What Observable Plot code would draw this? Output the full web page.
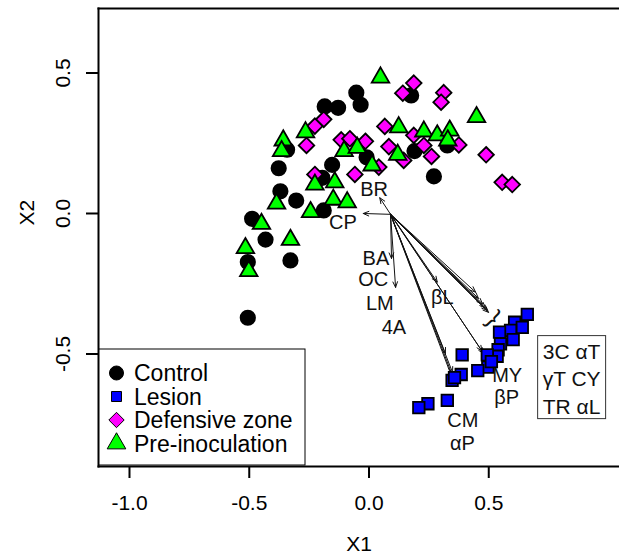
<!DOCTYPE html>
<html>
<head>
<meta charset="utf-8">
<script src="https://cdn.jsdelivr.net/npm/d3@7"></script>
<script src="https://cdn.jsdelivr.net/npm/@observablehq/plot@0.6"></script>
<style>
  body { margin: 0; background: #fff; }
  #chart svg { display: block; }
</style>
</head>
<body>
<div id="chart"></div>
<script>
// Sample scores on the first two ordination axes, one pair of arrays per group
const controlX = [-0.053, -0.035, -0.185, -0.129, -0.342, -0.377, -0.154, -0.010, -0.195, -0.370, -0.304,
                  -0.189, -0.488, -0.432, -0.506, -0.328, -0.506, 0.176, 0.327, 0.190, 0.271];
const controlY = [0.430, 0.387, 0.381, 0.376, 0.227, 0.161, 0.173, 0.200, 0.127, 0.079, 0.046,
                  0.011, -0.019, -0.093, -0.173, -0.167, -0.371, 0.420, 0.242, 0.222, 0.132];

const lesionX = [0.661, 0.608, 0.640, 0.591, 0.545, 0.602, 0.549, 0.539, 0.535, 0.494, 0.496,
                 0.454, 0.389, 0.385, 0.347, 0.327, 0.246, 0.208, 0.511, 0.357];
const lesionY = [-0.359, -0.387, -0.405, -0.416, -0.422, -0.449, -0.464, -0.485, -0.508, -0.503, -0.547,
                 -0.559, -0.503, -0.573, -0.594, -0.665, -0.677, -0.691, -0.527, -0.584];

const defenseX = [0.187, 0.141, 0.312, 0.301, -0.189, -0.226, -0.261, -0.116, -0.080, -0.015, -0.226, -0.059,
                  0.066, 0.187, 0.375, 0.229, 0.261, 0.083, 0.145, 0.489, 0.556, 0.598, 0.041];
const defenseY = [0.464, 0.428, 0.430, 0.396, 0.335, 0.311, 0.242, 0.262, 0.266, 0.257, 0.139, 0.139,
                  0.310, 0.278, 0.244, 0.242, 0.203, 0.238, 0.189, 0.209, 0.111, 0.103, 0.165];

const preinocX = [0.048, 0.449, -0.265, -0.358, -0.365, -0.104, -0.049, 0.013, -0.226, -0.143, 0.124, 0.229,
                  0.285, 0.337, 0.329, 0.120, -0.386, -0.149, -0.091, -0.244, -0.449, -0.328, -0.516, -0.502];
const preinocY = [0.484, 0.343, 0.289, 0.260, 0.222, 0.222, 0.234, 0.171, 0.103, 0.111, 0.307, 0.292,
                  0.278, 0.295, 0.260, 0.209, 0.035, 0.049, 0.040, 0.005, -0.037, -0.094, -0.123, -0.205];

const groupNames = ["Control", "Lesion", "Defensive zone", "Pre-inoculation"];

// Variable loadings drawn as arrows from a common origin
const arrowOrigin = [0.09, -0.003];
const arrowNames = ["BR", "CP", "BA", "OC", "LM", "4A", "CM", "αP", "βL", "MY", "βP",
                    "3C", "αT", "γT", "CY", "TR", "αL"];
const arrowX = [0.045, -0.024, 0.094, 0.111, 0.319, 0.349, 0.361, 0.353, 0.285, 0.479, 0.472,
                0.494, 0.486, 0.457, 0.445, 0.474, 0.499];
const arrowY = [0.056, 0.000, -0.160, -0.263, -0.498, -0.566, -0.605, -0.598, -0.244, -0.499, -0.490,
                -0.345, -0.336, -0.302, -0.280, -0.322, -0.352];

// Variable labels placed beside the arrow tips
const labelText = ["BR", "CP", "BA", "OC", "LM", "4A", "βL", "MY", "βP", "CM", "αP"];
const labelX = [0.021, -0.109, 0.029, 0.018, 0.045, 0.104, 0.306, 0.577, 0.575, 0.392, 0.390];
const labelY = [0.084, -0.034, -0.161, -0.237, -0.321, -0.405, -0.301, -0.577, -0.654, -0.737, -0.818];

// Brace and boxed note for the arrows that end together on the right
const braceX = [0.521], braceY = [-0.372];
const noteLines = ["3C αT", "γT CY", "TR αL"];
const noteX = [0.846], noteY = [-0.583];

const xTicks = [-1.0, -0.5, 0.0, 0.5];
const yTicks = [-0.5, 0.0, 0.5];

const FONT = "'Liberation Sans', Arial, Helvetica, sans-serif";

const groups = [
  {name: groupNames[0], xs: controlX, ys: controlY, symbol: "circle",   fill: "#000000", r: 7.2, legendSize: 154},
  {name: groupNames[1], xs: lesionX,  ys: lesionY,  symbol: "square",   fill: "#0000ff", r: 6.5, legendSize: 100},
  {name: groupNames[2], xs: defenseX, ys: defenseY, symbol: "diamond2", fill: "#ff00ff", r: 7.0, legendSize: 150},
  {name: groupNames[3], xs: preinocX, ys: preinocY, symbol: "triangle", fill: "#00ff00", r: 6.5, legendSize: 150}
];

const dotMarks = groups.map(g => Plot.dot(d3.range(g.xs.length), {
  x: i => g.xs[i], y: i => g.ys[i],
  symbol: g.symbol, r: g.r, fill: g.fill, stroke: "#000", strokeWidth: 1.8
}));

const plot = Plot.plot({
  width: 619,
  height: 554,
  marginLeft: 98,
  marginRight: 0,
  marginTop: 8,
  marginBottom: 88,
  style: {fontFamily: FONT, fontSize: "21px", color: "#000", background: "#fff"},
  x: {domain: [-1.1294, 1.0459]},
  y: {domain: [-0.9004, 0.7295]},
  marks: [
    Plot.axisX({ticks: xTicks, tickSize: 12, tickPadding: 17, strokeWidth: 2,
                tickFormat: d => d.toFixed(1), label: null, fontSize: 21}),
    Plot.axisY({ticks: yTicks, tickSize: 12, tickPadding: 17, tickRotate: -90, strokeWidth: 2,
                tickFormat: d => d.toFixed(1), label: null, fontSize: 21}),
    Plot.text(["X1"], {frameAnchor: "bottom", dy: 84, lineAnchor: "bottom", fontSize: 21}),
    Plot.text(["X2"], {frameAnchor: "left", dx: -65, dy: -12, rotate: -90, lineAnchor: "bottom", fontSize: 21}),
    Plot.arrow(arrowNames, {
      x1: () => arrowOrigin[0], y1: () => arrowOrigin[1],
      x2: (d, i) => arrowX[i], y2: (d, i) => arrowY[i],
      stroke: "#111", strokeWidth: 1, headLength: 9, headAngle: 45
    }),
    ...dotMarks,
    Plot.text(labelText, {x: (d, i) => labelX[i], y: (d, i) => labelY[i], text: d => d,
                          fontSize: 20, fill: "#111"}),
    Plot.text(["}"], {x: () => braceX[0], y: () => braceY[0], rotate: 45, fontSize: 24, fill: "#111"}),
    Plot.text([noteLines.join("\n")], {x: () => noteX[0], y: () => noteY[0], fontSize: 21,
                                      lineHeight: 1.31, fill: "#111", className: "note-text"}),
    Plot.frame({anchor: "left", strokeWidth: 2}),
    Plot.frame({anchor: "top", strokeWidth: 2}),
    Plot.frame({anchor: "bottom", strokeWidth: 2})
  ]
});

document.getElementById("chart").appendChild(plot);

const svg = d3.select(plot);

// Box around the note text, measured in the SVG's own pixel space
const noteNode = plot.querySelector(".note-text text");
if (noteNode) {
  const outer = plot.getBoundingClientRect();
  const b = noteNode.getBoundingClientRect();
  svg.append("rect")
    .attr("x", b.left - outer.left - 5).attr("y", b.top - outer.top - 4)
    .attr("width", b.width + 10).attr("height", b.height + 5)
    .attr("fill", "none").attr("stroke", "#333").attr("stroke-width", 1);
}

// Legend in the lower-left corner of the panel
const legend = svg.append("g").attr("font-family", FONT).attr("font-size", 23);
legend.append("rect")
  .attr("x", 99).attr("y", 349).attr("width", 206).attr("height", 116)
  .attr("fill", "#fff").attr("stroke", "#000").attr("stroke-width", 1);
const typeMap = {circle: d3.symbolCircle, square: d3.symbolSquare, diamond2: d3.symbolDiamond2, triangle: d3.symbolTriangle};
groups.forEach((g, k) => {
  const cy = 373 + k * 23.5;
  legend.append("path")
    .attr("transform", `translate(116.5,${cy})`)
    .attr("d", d3.symbol(typeMap[g.symbol], g.legendSize)())
    .attr("fill", g.fill).attr("stroke", "#000").attr("stroke-width", 1);
  legend.append("text")
    .attr("x", 134).attr("y", cy).attr("dy", "0.35em")
    .attr("text-anchor", "start")
    .attr("fill", "#000")
    .text(g.name);
});
</script>
</body>
</html>
